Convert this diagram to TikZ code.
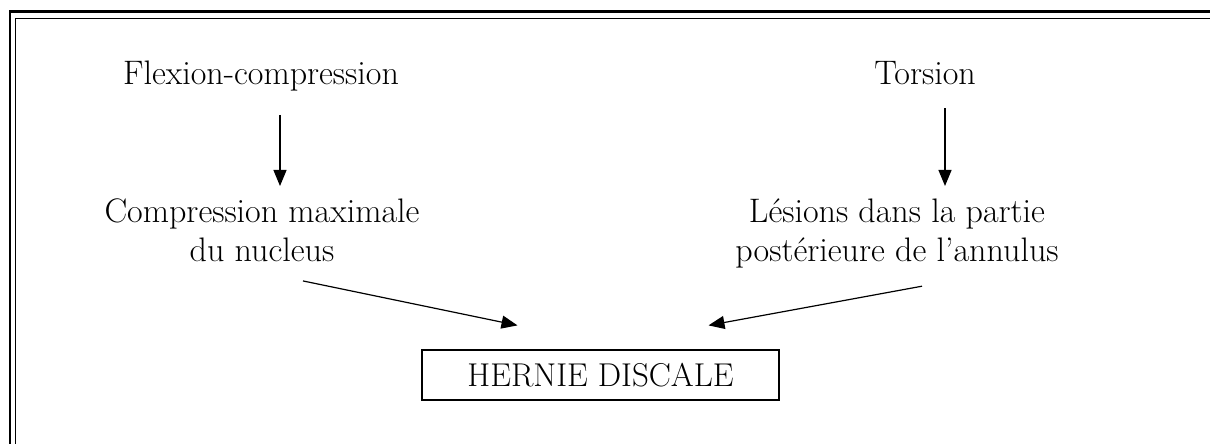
\documentclass[tikz,border=0pt]{standalone}
\usepackage{fontspec}
\usetikzlibrary{arrows.meta,positioning}

\begin{document}
\begin{tikzpicture}[x=1pt, y=1pt,
  texte/.style={inner sep=0pt, align=center, font=\fontsize{34}{39}\selectfont},
  fleche/.style={-{Triangle[length=16pt,width=13pt]}, line width=1.2pt},
  boite/.style={draw, line width=1.2pt, minimum width=357pt, minimum height=50pt, inner sep=0pt, font=\fontsize{33}{36}\selectfont}]
  \useasboundingbox (0,0) rectangle (1210,444);
  % cadre
  \draw[line width=2.4pt] (10,0) -- (10,432.5) -- (1210,432.5);
  \draw[line width=1.5pt] (15.5,0) -- (15.5,425.5) -- (1210,425.5);
  \node[texte, anchor=base] (flex) at (261, 359) {Flexion-compression};
  \node[texte, anchor=base] (tors) at (925, 359) {Torsion};
  \node[texte, anchor=north] (comp) at (262, 245.5) {Compression maximale\\du nucleus};
  \node[texte, anchor=north] (lesion) at (897, 245.5) {Lésions dans la partie\\postérieure de l’annulus};
  \node[boite] (hernie) at (600.5, 69) {HERNIE DISCALE};
  \draw[fleche, shorten <=23pt] ([xshift=19pt]flex.south) -- ([xshift=19pt]flex.south |- 0,258);
  \draw[fleche, shorten <=23pt] ([xshift=20pt]tors.south) -- ([xshift=20pt]tors.south |- 0,258);
  \draw[fleche] ([shift={(41pt,-19pt)}]comp.south) -- ([shift={(-83pt,24pt)}]hernie.north);
  \draw[fleche] ([shift={(25pt,-18pt)}]lesion.south) -- ([shift={(108pt,24pt)}]hernie.north);
\end{tikzpicture}
\end{document}
